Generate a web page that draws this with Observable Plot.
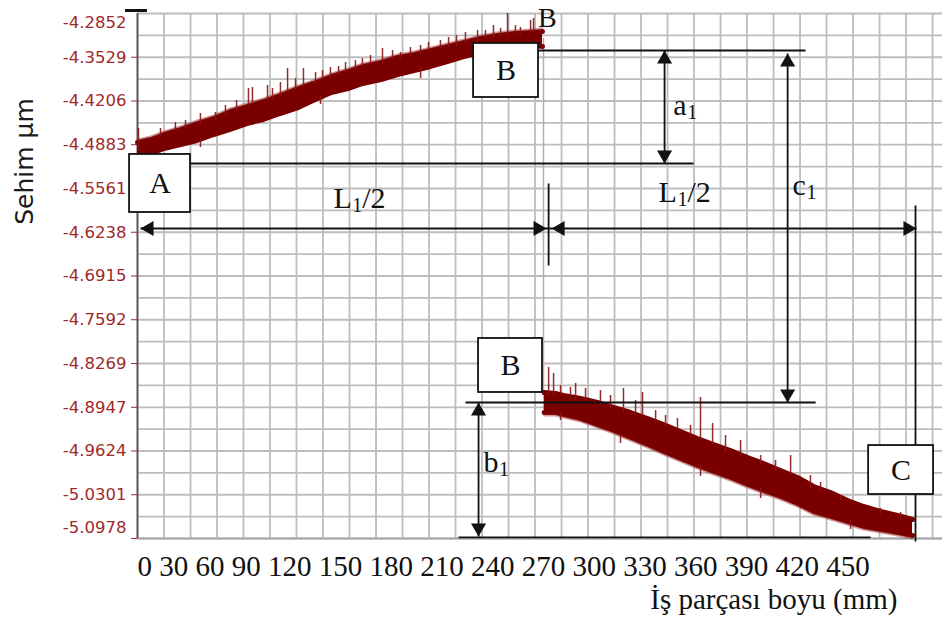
<!DOCTYPE html>
<html>
<head>
<meta charset="utf-8">
<script src="https://cdn.jsdelivr.net/npm/d3@7"></script>
<script src="https://cdn.jsdelivr.net/npm/@observablehq/plot@0.6"></script>
<style>
  html, body { margin: 0; padding: 0; background: #fff; }
  #chart { width: 942px; height: 631px; }
</style>
</head>
<body>
<div id="chart"></div>
<script>
// ---------- data (x in mm, y in µm) ----------
const yTicks = [-4.2852, -4.3529, -4.4206, -4.4883, -4.5561, -4.6238, -4.6915, -4.7592, -4.8269, -4.8947, -4.9624, -5.0301, -5.0978];
const xTickLabels = [0, 30, 60, 90, 120, 150, 180, 210, 240, 270, 300, 330, 360, 390, 420, 450];

// first part of the trace (A -> B): upper and lower edge of the noisy band
const seg1X      = [0, 8, 16, 26, 36, 46, 56, 66, 76, 86, 97, 106, 117, 127, 136, 147, 157, 167, 177, 187, 197, 207, 217, 227, 237, 244.5];
const seg1Top    = [-4.4849, -4.4802, -4.4725, -4.4647, -4.4555, -4.4477, -4.4369, -4.4292, -4.4214, -4.4121, -4.4013, -4.3935, -4.3827, -4.3750, -4.3672, -4.3610, -4.3533, -4.3487, -4.3425, -4.3363, -4.3301, -4.3239, -4.3193, -4.3162, -4.3146, -4.3131];
const seg1Bottom = [-4.5065, -4.5019, -4.4942, -4.4880, -4.4818, -4.4725, -4.4647, -4.4555, -4.4493, -4.4400, -4.4307, -4.4199, -4.4075, -4.4013, -4.3935, -4.3874, -4.3796, -4.3734, -4.3672, -4.3595, -4.3518, -4.3456, -4.3409, -4.3363, -4.3332, -4.3363];

// second part of the trace (B -> C)
const seg2X      = [245.5, 252.4, 257.2, 267.5, 277.7, 287.4, 297.7, 307.9, 317.6, 327.8, 338.1, 347.8, 358.0, 368.3, 378.0, 388.2, 398.5, 408.2, 418.4, 428.7, 438.3, 448.6, 458.9, 467.9];
const seg2Top    = [-4.8718, -4.8734, -4.8765, -4.8811, -4.8873, -4.8950, -4.9028, -4.9121, -4.9214, -4.9322, -4.9430, -4.9523, -4.9616, -4.9724, -4.9817, -4.9925, -5.0034, -5.0173, -5.0266, -5.0390, -5.0483, -5.0560, -5.0622, -5.0684];
const seg2Bottom = [-4.9028, -4.9028, -4.9059, -4.9121, -4.9214, -4.9306, -4.9415, -4.9523, -4.9631, -4.9740, -4.9848, -4.9941, -5.0034, -5.0142, -5.0235, -5.0328, -5.0436, -5.0560, -5.0637, -5.0715, -5.0792, -5.0839, -5.0885, -5.0932];

// noise spikes (from base inside the band to tip)
const spikeX    = [0.6, 13.9, 22.9, 29.0, 38.0, 47.1, 53.1, 59.8, 67.0, 69.4, 78.5, 81.5, 86.3, 90.6, 95.4, 100.2, 107.5, 111.7, 116.5, 121.4, 125.6, 131.6, 135.8, 140.7, 147.9, 154.0, 158.8, 164.8, 170.9, 175.7, 182.9, 187.8, 192.6, 198.0, 205.3, 210.1, 214.9, 219.2, 223.4, 228.2, 231.2, 237.3, 239.1,
                   248.2, 251.2, 255.4, 261.4, 264.5, 270.5, 279.5, 285.6, 293.4, 300.7, 304.9, 312.8, 318.8, 326.0, 333.9, 339.9, 347.2, 355.0, 364.1, 376.2, 385.2, 394.3, 406.3, 412.4, 424.5, 448.6, 460.7,
                   38.0, 110.5, 170.9, 255.4, 291.6, 339.9, 376.2, 430.5];
const spikeTip  = [-4.4632, -4.4632, -4.4539, -4.4508, -4.4400, -4.4384, -4.4276, -4.4199, -4.4013, -4.3997, -4.3966, -4.4013, -4.3920, -4.3703, -4.3858, -4.3703, -4.3765, -4.3734, -4.3688, -4.3672, -4.3610, -4.3580, -4.3549, -4.3502, -4.3394, -4.3425, -4.3456, -4.3378, -4.3347, -4.3301, -4.3270, -4.3224, -4.3193, -4.3146, -4.3115, -4.3115, -4.3038, -4.3084, -4.2852, -4.3038, -4.3069, -4.2960, -4.2929,
                   -4.8331, -4.8424, -4.8610, -4.8640, -4.8579, -4.8656, -4.8687, -4.8765, -4.8656, -4.8842, -4.8718, -4.8997, -4.9074, -4.9121, -4.9229, -4.8796, -4.9197, -4.9384, -4.9461, -4.9693, -4.9770, -4.9693, -5.0003, -5.0111, -5.0312, -5.0513, -5.0576,
                   -4.4926, -4.4261, -4.3858, -4.9152, -4.9508, -5.0018, -5.0359, -5.0839];
const spikeBase = [-4.4973, -4.4771, -4.4678, -4.4632, -4.4586, -4.4508, -4.4431, -4.4369, -4.4292, -4.4261, -4.4199, -4.4183, -4.4137, -4.4075, -4.4044, -4.3982, -4.3935, -4.3889, -4.3843, -4.3812, -4.3781, -4.3719, -4.3688, -4.3641, -4.3626, -4.3564, -4.3549, -4.3502, -4.3471, -4.3440, -4.3409, -4.3363, -4.3363, -4.3301, -4.3301, -4.3239, -4.3239, -4.3208, -4.3208, -4.3177, -4.3177, -4.3162, -4.3146,
                   -4.8765, -4.8765, -4.8765, -4.8842, -4.8842, -4.8873, -4.8919, -4.8966, -4.9028, -4.9074, -4.9121, -4.9198, -4.9260, -4.9306, -4.9430, -4.9461, -4.9523, -4.9647, -4.9693, -4.9848, -4.9925, -5.0003, -5.0204, -5.0235, -5.0390, -5.0607, -5.0684,
                   -4.4787, -4.4121, -4.3703, -4.9028, -4.9368, -4.9848, -5.0204, -5.0699];

// the jump between B and B
const jumpX = 245.1, jumpTop = -4.3239, jumpBottom = -4.8765;

// annotation boxes
const boxLabels = ["A", "B", "B", "C"];
const boxX1 = [-4.8, 202.9, 205.9, 441.4];
const boxX2 = [32.0, 242.1, 244.5, 480.6];
const boxY1 = [-4.5034, -4.3316, -4.7882, -4.9539];
const boxY2 = [-4.5932, -4.4152, -4.8718, -5.0297];

// annotation lines
const lineX1 = [32.0, 242.1, 198.0, 193.8, 1.8, 318.2, 392.5, 205.9, 248.2, 469.7];
const lineY1 = [-4.5174, -4.3425, -4.8873, -5.0962, -4.6180, -4.3425, -4.3471, -4.8873, -4.5483, -4.5824];
const lineX2 = [335.7, 403.3, 409.4, 442.6, 470.3, 318.2, 392.5, 205.9, 248.2, 469.7];
const lineY2 = [-4.5174, -4.3425, -4.8873, -5.0962, -4.6180, -4.5174, -4.8873, -5.0947, -4.6752, -5.1024];

// arrow heads (tip positions)
const headX   = [318.2, 318.2, 392.5, 392.5, 205.9, 205.9, 1.8, 247.0, 250.0, 470.3];
const headY   = [-4.3425, -4.5174, -4.3471, -4.8873, -4.8873, -5.0947, -4.6180, -4.6180, -4.6180, -4.6180];
const headDir = ["up", "down", "up", "down", "up", "down", "left", "right", "left", "right"];

// subscripted labels
const subMain  = ["a", "b", "c", "L", "L"];
const subIndex = ["1", "1", "1", "1", "1"];
const subTail  = ["", "", "", "/2", "/2"];
const subX     = [323.5, 208.9, 395.5, 314.6, 118.3];
const subY     = [-4.4276, -4.9802, -4.5514, -4.5623, -4.5715];

// top label over the jump
const topLabel = "B", topLabelX = 247.5, topLabelY = -4.2929;

// ---------- build ----------
const seg1 = seg1X.map((x, i) => ({x, top: seg1Top[i], bottom: seg1Bottom[i]}));
const seg2 = seg2X.map((x, i) => ({x, top: seg2Top[i], bottom: seg2Bottom[i]}));
const spikes = spikeX.map((x, i) => ({x, tip: spikeTip[i], base: spikeBase[i]}));
const boxes = boxLabels.map((label, i) => ({label, x1: boxX1[i], x2: boxX2[i], y1: boxY1[i], y2: boxY2[i]}));
const lines = lineX1.map((x1, i) => ({x1, y1: lineY1[i], x2: lineX2[i], y2: lineY2[i]}));
const heads = headX.map((x, i) => ({x, y: headY[i], dir: headDir[i]}));

const yGrid = yTicks.flatMap((t, i) => i < yTicks.length - 1 ? [t, (t + yTicks[i + 1]) / 2] : [t]);
const xGrid = d3.range(0, 487, 16);

const serif = "Liberation Serif, 'Times New Roman', serif";
const ink = "#111";
const red = "#9e2a2a";
const trace = "#7a0000";

const canvas = document.createElement("canvas").getContext("2d");
function measure(text, size) { canvas.font = `${size}px ${serif}`; return canvas.measureText(text).width; }

const headRot = {up: 0, down: 180, left: -90, right: 90};
const headOff = 8.7;
const headMarks = Object.keys(headRot).map(dir => Plot.dot(heads.filter(d => d.dir === dir), {
  x: "x", y: "y", symbol: "triangle", r: 5.6, fill: ink, stroke: null, rotate: headRot[dir],
  dx: dir === "left" ? headOff : dir === "right" ? -headOff : 0,
  dy: dir === "up" ? headOff : dir === "down" ? -headOff : 0
}));

const subMarks = subMain.flatMap((m, i) => {
  const w1 = measure(m, 30), w2 = measure(subIndex[i], 20);
  const d = [{x: subX[i], y: subY[i]}];
  const out = [
    Plot.text(d, {x: "x", y: "y", text: () => m, textAnchor: "start", fontFamily: serif, fontSize: 30, fill: ink}),
    Plot.text(d, {x: "x", y: "y", text: () => subIndex[i], textAnchor: "start", dx: w1 + 0.5, dy: 7, fontFamily: serif, fontSize: 20, fill: ink})
  ];
  if (subTail[i]) out.push(Plot.text(d, {x: "x", y: "y", text: () => subTail[i], textAnchor: "start", dx: w1 + w2 + 0.5, fontFamily: serif, fontSize: 30, fill: ink}));
  return out;
});

const chart = Plot.plot({
  width: 942,
  height: 631,
  marginLeft: 137,
  marginRight: 0,
  marginTop: 13,
  marginBottom: 93,
  x: {domain: [0, 486], axis: null},
  y: {domain: [-5.0978, -4.2852], axis: null},
  style: {background: "#fff", overflow: "visible"},
  marks: [
    Plot.gridX(xGrid, {stroke: "#bdbdbd", strokeOpacity: 1, strokeWidth: 1.8}),
    Plot.gridY(yGrid, {stroke: "#bdbdbd", strokeOpacity: 1, strokeWidth: 1.8}),
    Plot.ruleY([yTicks[yTicks.length - 1]], {stroke: "#a8a8a8", strokeWidth: 2}),
    Plot.ruleX([0], {y1: -5.0978, y2: -4.2852, stroke: "#555", strokeWidth: 1.8}),
    Plot.ruleY([yTicks[0]], {x1: -7.2, x2: 6, stroke: ink, strokeWidth: 3, dy: -3}),
    Plot.axisY(yTicks.slice(1), {
      tickFormat: d => d === yTicks[yTicks.length - 1] ? "" : d.toFixed(4),
      tickSize: 6, tickPadding: 5, stroke: red, fill: red, color: red,
      fontFamily: "DejaVu Sans", fontSize: 16.5, label: null
    }),
    Plot.text([yTicks[0]], {y: d => d, frameAnchor: "left", text: d => d.toFixed(4), textAnchor: "end", dx: -11, dy: 9, fill: red, fontFamily: "DejaVu Sans", fontSize: 16.5}),
    Plot.text([yTicks[yTicks.length - 1]], {y: d => d, frameAnchor: "left", text: d => d.toFixed(4), textAnchor: "end", dx: -11, dy: -11, fill: red, fontFamily: "DejaVu Sans", fontSize: 16.5}),

    // trace
    Plot.ruleX([jumpX], {y1: jumpTop, y2: jumpBottom, stroke: "#d8a0a0", strokeWidth: 1.5}),
    Plot.areaY(seg1, {x: "x", y1: "bottom", y2: "top", fill: trace}),
    Plot.areaY(seg2, {x: "x", y1: "bottom", y2: "top", fill: trace}),
    Plot.line(seg1, {x: "x", y: "top", stroke: trace, strokeWidth: 5}),
    Plot.line(seg1, {x: "x", y: "bottom", stroke: trace, strokeWidth: 5}),
    Plot.line(seg2, {x: "x", y: "top", stroke: trace, strokeWidth: 5}),
    Plot.line(seg2, {x: "x", y: "bottom", stroke: trace, strokeWidth: 5}),
    Plot.line(seg1, {x: "x", y: "top", stroke: "#a33a3a", strokeWidth: 2, strokeOpacity: 0.5, dy: -3}),
    Plot.line(seg2, {x: "x", y: "bottom", stroke: "#a33a3a", strokeWidth: 2, strokeOpacity: 0.5, dy: 3}),
    Plot.ruleX(spikes, {x: "x", y1: "base", y2: "tip", stroke: "#8a1414", strokeWidth: 1.5, strokeOpacity: 0.9}),

    // annotations
    Plot.link(lines, {x1: "x1", y1: "y1", x2: "x2", y2: "y2", stroke: ink, strokeWidth: 1.8}),
    Plot.rect(boxes, {x1: "x1", x2: "x2", y1: "y1", y2: "y2", fill: "#fff", stroke: ink, strokeWidth: 1.8}),
    Plot.text(boxes, {x: d => (d.x1 + d.x2) / 2, y: d => (d.y1 + d.y2) / 2, text: "label", fontFamily: serif, fontSize: 30, fill: ink}),
    Plot.text([topLabel], {x: () => topLabelX, y: () => topLabelY, text: d => d, fontFamily: serif, fontSize: 28, fill: ink}),
    ...headMarks,
    ...subMarks,

    // axis texts
    Plot.text([xTickLabels.join(" ")], {text: d => d, frameAnchor: "bottom-left", textAnchor: "start", dy: 37.7, fontFamily: serif, fontSize: 29, fill: ink}),
    Plot.text(["İş parçası boyu (mm)"], {text: d => d, frameAnchor: "bottom-right", textAnchor: "end", dx: -45, dy: 70.7, fontFamily: serif, fontSize: 29, fill: ink}),
    Plot.text(["Sehim µm"], {text: d => d, frameAnchor: "left", textAnchor: "middle", rotate: -90, dx: -113, dy: -114.5, fontFamily: "DejaVu Sans", fontSize: 25, fill: "#1b1b1b"})
  ]
});
document.getElementById("chart").appendChild(chart);
</script>
</body>
</html>
